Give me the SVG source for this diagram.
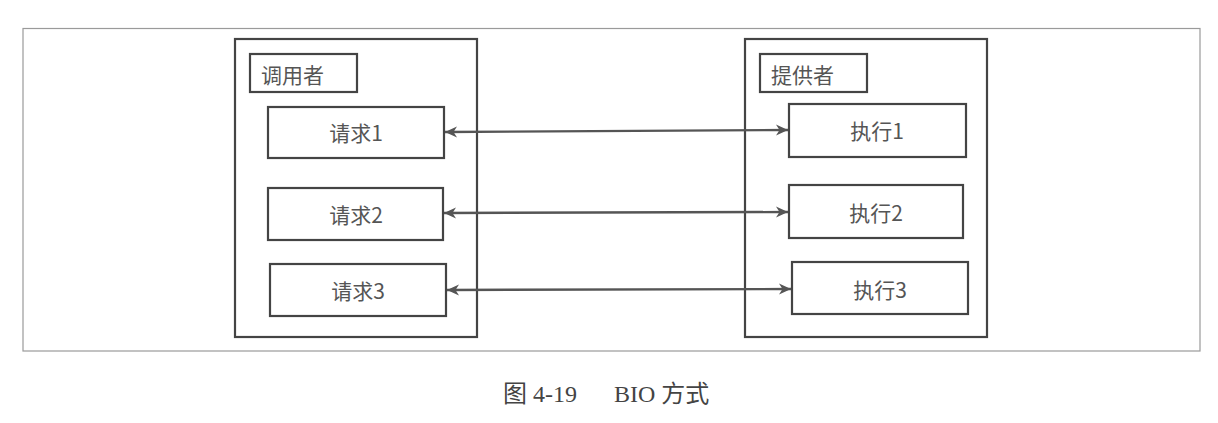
<svg xmlns="http://www.w3.org/2000/svg" width="1218" height="423" viewBox="0 0 1218 423">
<style>
.frame{fill:#fff;stroke:#9a9a9a;stroke-width:1.2}
.cont{fill:#fff;stroke:#444;stroke-width:2.2}
.box{fill:#fff;stroke:#444;stroke-width:2.2}
.t{font-family:"Noto Sans CJK SC","Noto Sans",sans-serif;font-size:21px;fill:#555;text-anchor:middle;dominant-baseline:central}
.lbl{font-family:"Noto Sans CJK SC","Noto Sans",sans-serif;font-size:21px;fill:#555;dominant-baseline:central}
.cap{font-family:"Liberation Serif","Noto Sans CJK SC",serif;font-size:24px;fill:#444}
.conn{stroke:#555;stroke-width:2.4;fill:none;marker-start:url(#ah);marker-end:url(#ah)}
</style>
<defs>
<marker id="ah" viewBox="0 0 14 14" refX="13" refY="7" markerWidth="14" markerHeight="14" markerUnits="userSpaceOnUse" orient="auto-start-reverse">
<path d="M1,1.5 L13,7 L1,12.5 L4.5,7 Z" fill="#555"/>
</marker>
</defs>
<rect width="1218" height="423" fill="#fff"/>
<rect class="frame" x="23" y="28.5" width="1177" height="322.5"/>
<g id="caller">
<rect class="cont" x="235" y="39" width="242" height="298"/>
<g id="caller-label"><rect class="box" x="250" y="54" width="107" height="38"/><text class="lbl" x="261" y="74">调用者</text></g>
<g id="req1"><rect class="box" x="268" y="107" width="176" height="51"/><text class="t" x="356" y="132">请求1</text></g>
<g id="req2"><rect class="box" x="268" y="188" width="175" height="52"/><text class="t" x="356" y="214">请求2</text></g>
<g id="req3"><rect class="box" x="270" y="264" width="176" height="52"/><text class="t" x="358" y="290">请求3</text></g>
</g>
<g id="provider">
<rect class="cont" x="745" y="39" width="242" height="298"/>
<g id="provider-label"><rect class="box" x="760" y="54" width="107" height="38"/><text class="lbl" x="771" y="74">提供者</text></g>
<g id="exec1"><rect class="box" x="789" y="104" width="177" height="53"/><text class="t" x="877" y="130">执行1</text></g>
<g id="exec2"><rect class="box" x="789" y="185" width="174" height="53"/><text class="t" x="876" y="212">执行2</text></g>
<g id="exec3"><rect class="box" x="792" y="262" width="176" height="52"/><text class="t" x="880" y="289">执行3</text></g>
</g>
<g id="connectors">
<line class="conn" x1="445" y1="132" x2="788" y2="130"/>
<line class="conn" x1="444" y1="213" x2="788" y2="212"/>
<line class="conn" x1="447" y1="290" x2="791" y2="289"/>
</g>
<text class="cap" x="503" y="402">图 4-19</text>
<text class="cap" x="614" y="402">BIO 方式</text>
</svg>
